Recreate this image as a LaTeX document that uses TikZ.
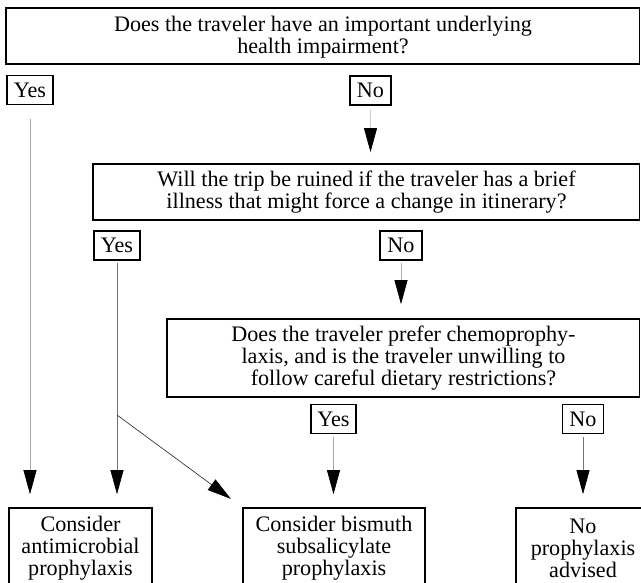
\documentclass[tikz,border=0pt]{standalone}
\usepackage{fontspec}
\setmainfont{Liberation Serif}
\usetikzlibrary{arrows.meta}
\begin{document}
\begin{tikzpicture}[x=0.75pt,y=-0.75pt,
  txt/.style={font=\fontsize{16.6}{16.4}\selectfont},
  qbox/.style={draw, line width=1.3pt, inner sep=0pt},
  qtext/.style={txt, align=center, inner sep=0pt},
  lbl/.style={txt, draw, line width=1pt, inner sep=0pt, minimum height=29*0.75pt},
  endbox/.style={txt, draw, line width=1.2pt, align=center, inner sep=0pt,
                 minimum height=80*0.75pt},
  tipc/.style={-{Triangle[length=18pt,width=9.75pt,color=black]}},
  faint/.style={tipc, draw=black!35, line width=0.5pt},
  midc/.style={tipc, draw=black!55, line width=0.5pt},
  darkc/.style={tipc, draw=black!80, line width=0.5pt}]
\clip (0,0) rectangle (641,582);

% question boxes
\node[qbox, minimum width=633.5*0.75pt, minimum height=56*0.75pt] (q1) at (322.75,36) {};
\node[qtext] (q1t) at (323,37) {Does the traveler have an important underlying\\health impairment?};

\node[qbox, minimum width=546.5*0.75pt, minimum height=56*0.75pt] (q2) at (366.25,192) {};
\node[qtext] (q2t) at (366.5,192) {Will the trip be ruined if the traveler has a brief\\illness that might force a change in itinerary?};

\node[qbox, minimum width=472.5*0.75pt, minimum height=78*0.75pt] (q3) at (403.25,358) {};
\node[qtext] (q3t) at (403.5,358) {Does the traveler prefer chemoprophy-\\laxis, and is the traveler unwilling to\\follow careful dietary restrictions?};

% labels
\node[lbl, minimum width=46*0.75pt] (yes1) at (30,90) {Yes};
\node[lbl, minimum width=41*0.75pt] (no1) at (370.5,90.5) {No};
\node[lbl, minimum width=46*0.75pt] (yes2) at (117,245.5) {Yes};
\node[lbl, minimum width=42*0.75pt] (no2) at (401,245.5) {No};
\node[lbl, minimum width=45*0.75pt] (yes3) at (333.5,419) {Yes};
\node[lbl, minimum width=41*0.75pt] (no3) at (583,419) {No};

% outcomes
\node[endbox, minimum width=143*0.75pt] (a1) at (80.5,548) {Consider\\antimicrobial\\prophylaxis};
\node[endbox, minimum width=182*0.75pt] (a2) at (334,548) {Consider bismuth\\subsalicylate\\prophylaxis};
\node[endbox, minimum width=134*0.75pt] (a3) at (583,548) {No\\prophylaxis\\advised};

% connectors
\draw[faint, shorten <=10pt, shorten >=9.75pt] (yes1.south) -- (yes1.south |- a1.north);
\draw[faint, draw=black!20, shorten <=3pt, shorten >=8.25pt] (no1.south) -- (no1.south |- q2.north);
\draw[midc, shorten <=2pt, shorten >=9.75pt] (yes2.south) -- (yes2.south |- a1.north);
\coordinate (br) at (117,415);
\draw[darkc, shorten >=10.5pt] (br) -- (a2.north west);
\draw[faint, draw=black!30, shorten <=2pt, shorten >=10.5pt] (no2.south) -- (no2.south |- q3.north);
\draw[faint, shorten <=2pt, shorten >=9.75pt] (yes3.south) -- (yes3.south |- a2.north);
\draw[midc, shorten <=2pt, shorten >=9.75pt] (no3.south) -- (no3.south |- a3.north);
\end{tikzpicture}
\end{document}
